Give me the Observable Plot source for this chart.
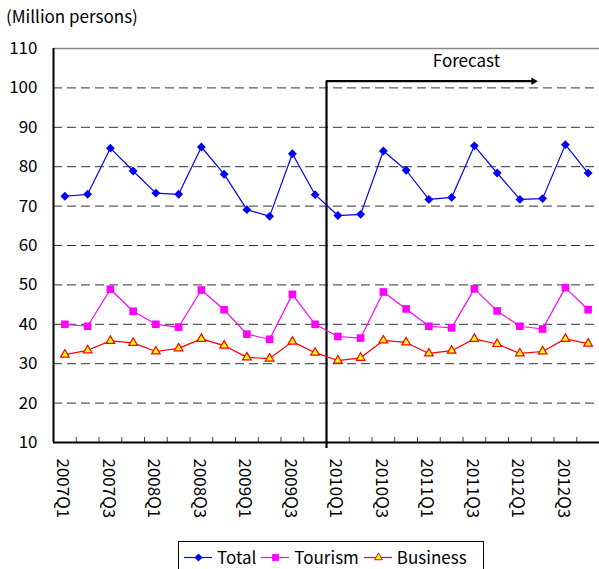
<!DOCTYPE html>
<html>
<head>
<meta charset="utf-8">
<script src="https://cdn.jsdelivr.net/npm/d3@7"></script>
<script src="https://cdn.jsdelivr.net/npm/@observablehq/plot@0.6"></script>
<style>
  html, body { margin: 0; padding: 0; background: #fff; }
  #wrap { position: relative; width: 599px; height: 569px; overflow: hidden;
          font-family: "Noto Sans CJK JP", "Noto Sans", sans-serif; color: #000; }
  #wrap svg.plot { position: absolute; left: 0; top: 0; }
  #unit { position: absolute; left: 6px; top: 4px; font-size: 17px; line-height: 24px; }
  #legend { position: absolute; left: 178px; top: 541px; width: 306px; height: 40px;
            border: 1px solid #000; background: #fff; display: flex; align-items: flex-start;
            padding-top: 3px; box-sizing: border-box; font-size: 17px; line-height: 24px; }
  #legend .item { display: flex; align-items: center; margin-left: 5px; }
  #legend .item svg { margin-right: 5px; }
</style>
</head>
<body>
<div id="wrap">
  <div id="unit">(Million persons)</div>
  <div id="legend"></div>
</div>
<script>
// Quarterly visitor numbers, in million persons
const quarters = [
  "2007Q1","2007Q2","2007Q3","2007Q4",
  "2008Q1","2008Q2","2008Q3","2008Q4",
  "2009Q1","2009Q2","2009Q3","2009Q4",
  "2010Q1","2010Q2","2010Q3","2010Q4",
  "2011Q1","2011Q2","2011Q3","2011Q4",
  "2012Q1","2012Q2","2012Q3","2012Q4"
];
const total = [
  72.5, 73.0, 84.7, 78.9,
  73.3, 73.0, 85.0, 78.1,
  69.1, 67.4, 83.3, 72.9,
  67.6, 67.9, 84.0, 79.1,
  71.7, 72.2, 85.3, 78.4,
  71.7, 71.9, 85.6, 78.4
];
const tourism = [
  40.0, 39.5, 48.9, 43.3,
  40.0, 39.3, 48.7, 43.7,
  37.5, 36.2, 47.6, 40.0,
  36.9, 36.5, 48.2, 43.9,
  39.5, 39.1, 49.0, 43.4,
  39.5, 38.8, 49.3, 43.7
];
const business = [
  32.3, 33.4, 35.8, 35.3,
  33.1, 33.9, 36.3, 34.6,
  31.6, 31.3, 35.6, 32.8,
  30.8, 31.5, 35.9, 35.4,
  32.6, 33.3, 36.3, 35.0,
  32.6, 33.1, 36.3, 35.1
];
const seriesNames = ["Total", "Tourism", "Business"];
const yTicks = [10, 20, 30, 40, 50, 60, 70, 80, 90, 100, 110];
const forecastStart = "2010Q1";
const forecastLabel = "Forecast";

// Series styling
const styles = {
  Total:    { stroke: "#0000ff", fill: "#0000ff", symbol: "diamond2", r: 4.0, dotStroke: "none" },
  Tourism:  { stroke: "#ff00ff", fill: "#ff00ff", symbol: "square", r: 4.3, dotStroke: "none" },
  Business: { stroke: "#ff0000", fill: "#ffff00", symbol: "triangle", r: 3.2, dotStroke: "#ff0000" }
};

const idx = quarters.map((_, i) => i);
const table = [
  ...total.map((v, i) => ({ series: "Total", i, value: v })),
  ...tourism.map((v, i) => ({ series: "Tourism", i, value: v })),
  ...business.map((v, i) => ({ series: "Business", i, value: v }))
];

// x is the quarter index; ticks between quarters sit at half steps
const boundaries = idx.slice(0, -1).map(i => i + 0.5);
const labelIdx = idx.filter(i => i % 2 === 0);
const fx = quarters.indexOf(forecastStart) - 0.5;   // boundary where the forecast begins
const bracketY = 101.7;
const arrowEnd = 20.6;
const labelX = 17.65, labelY = 106.8;

const seriesMarks = seriesNames.flatMap(name => {
  const s = styles[name];
  const rows = table.filter(d => d.series === name);
  return [
    Plot.line(rows, { x: "i", y: "value", stroke: s.stroke, strokeWidth: 1.2 }),
    Plot.dot(rows, { x: "i", y: "value", symbol: s.symbol, r: s.r, fill: s.fill,
                     stroke: s.dotStroke, strokeWidth: 1.2 })
  ];
});

const chart = Plot.plot({
  width: 599,
  height: 569,
  marginLeft: 53,
  marginRight: 0,
  marginTop: 48,
  marginBottom: 127,
  style: { fontFamily: "'Noto Sans CJK JP', 'Noto Sans', sans-serif", fontSize: "16px",
           color: "#000", background: "transparent", overflow: "visible" },
  x: { domain: [-0.5, quarters.length - 0.5], axis: null },
  y: { domain: [10, 110], axis: null },
  marks: [
    Plot.ruleY(yTicks.slice(1, -1), { stroke: "#333", strokeDasharray: "9,5", strokeWidth: 1 }),
    Plot.ruleY([110], { stroke: "#888", strokeWidth: 1.5 }),
    Plot.axisY({ ticks: yTicks, tickSize: 0, tickPadding: 16, fontSize: 17, label: null }),
    Plot.axisX({ ticks: labelIdx, tickSize: 0, tickPadding: 16, tickRotate: 90,
                 tickFormat: i => quarters[i], fontSize: 17, dx: -2, label: null }),
    Plot.axisX({ ticks: boundaries, tickSize: -5, tickFormat: () => "", stroke: "#444", label: null }),
    Plot.ruleX([-0.5], { stroke: "#000", strokeWidth: 2 }),
    Plot.ruleY([10], { stroke: "#000", strokeWidth: 2 }),
    // forecast bracket
    Plot.ruleX([fx], { y1: bracketY, y2: 10, insetBottom: -6, stroke: "#000", strokeWidth: 2.2 }),
    Plot.ruleY([bracketY], { x1: fx, x2: arrowEnd, stroke: "#000", strokeWidth: 2.2 }),
    Plot.dot([arrowEnd], { x: d => d, y: () => bracketY, symbol: "triangle2", rotate: 90,
                           r: 3.6, fill: "#000", stroke: "none" }),
    Plot.text([forecastLabel], { x: () => labelX, y: () => labelY, text: d => d, fontSize: 17 }),
    ...seriesMarks
  ]
});
document.getElementById("wrap").appendChild(chart);

// Legend
const legend = document.getElementById("legend");
for (const name of seriesNames) {
  const s = styles[name];
  const item = document.createElement("div");
  item.className = "item";
  const sym = Plot.dot([0], { x: () => 0, y: () => 0, symbol: s.symbol, r: s.r * 0.9,
                              fill: s.fill, stroke: s.dotStroke, strokeWidth: 1 });
  const sw = Plot.plot({
    width: 28, height: 16, margin: 0, axis: null,
    x: { domain: [-1, 1] }, y: { domain: [-1, 1] },
    style: { background: "transparent", overflow: "visible" },
    marks: [Plot.ruleY([0], { stroke: s.stroke, strokeWidth: 1.2 }), sym]
  });
  item.appendChild(sw);
  const t = document.createElement("span");
  t.textContent = name;
  item.appendChild(t);
  legend.appendChild(item);
}
</script>
</body>
</html>
